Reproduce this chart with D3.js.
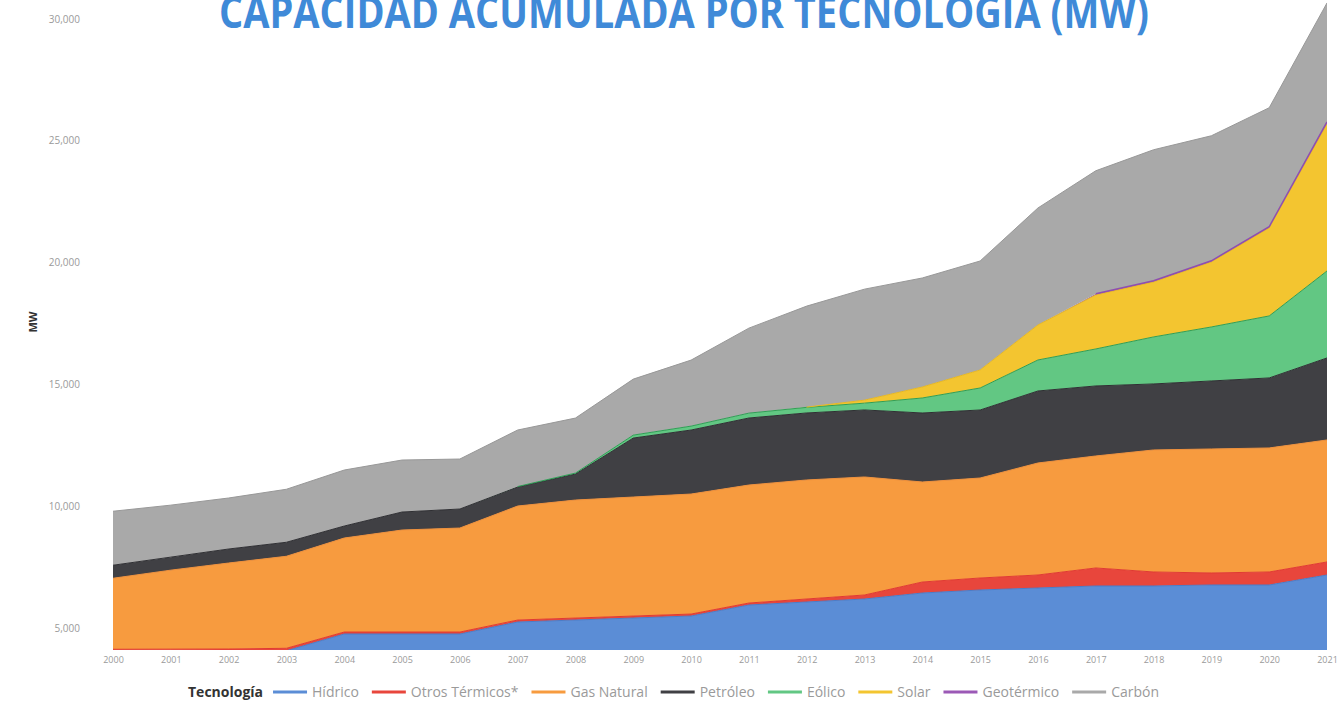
<!DOCTYPE html>
<html>
<head>
<meta charset="utf-8">
<script src="https://cdn.jsdelivr.net/npm/d3@7"></script>
<style>
  body { margin: 0; background: #fff; }
  svg { display: block; font-family: "Open Sans", "Noto Sans", sans-serif; }
</style>
</head>
<body>
<div id="chart"></div>
<script>
var width = 1342, height = 706;

// años y series (MW)
var years = [2000, 2001, 2002, 2003, 2004, 2005, 2006, 2007, 2008, 2009, 2010,
             2011, 2012, 2013, 2014, 2015, 2016, 2017, 2018, 2019, 2020, 2021];

var hidrico      = [4050, 4055, 4060, 4070, 4757, 4757, 4757, 5249, 5331, 5413, 5495,
                    5947, 6070, 6193, 6439, 6562, 6644, 6727, 6727, 6768, 6768, 7178];
var otrosTermicos = [80, 80, 80, 100, 80, 80, 80, 80, 80, 80, 80,
                    80, 123, 164, 451, 492, 534, 739, 575, 492, 534, 534];
var gasNatural   = [2914, 3242, 3529, 3776, 3858, 4186, 4268, 4679, 4843, 4884, 4925,
                    4843, 4884, 4843, 4104, 4104, 4596, 4596, 5007, 5089, 5089, 5007];
var petroleo     = [534, 534, 575, 575, 492, 739, 780, 780, 1067, 2421, 2627,
                    2750, 2750, 2750, 2832, 2791, 2955, 2873, 2709, 2791, 2873, 3365];
var eolico       = [0, 0, 0, 0, 0, 0, 0, 20, 40, 120, 160,
                    200, 230, 280, 616, 903, 1272, 1518, 1929, 2216, 2544, 3570];
var solar        = [0, 0, 0, 0, 0, 0, 0, 0, 0, 0, 0,
                    0, 10, 123, 451, 739, 1436, 2216, 2257, 2668, 3612, 6033];
var geotermico   = [0, 0, 0, 0, 0, 0, 0, 0, 0, 0, 0,
                    0, 0, 0, 0, 0, 0, 48, 48, 48, 48, 81];
var carbon       = [2216, 2134, 2093, 2175, 2298, 2134, 2052, 2319, 2257, 2298, 2709,
                    3488, 4145, 4555, 4473, 4473, 4802, 5048, 5376, 5130, 4884, 4884];

var seriesNames = ["Hídrico", "Otros Térmicos*", "Gas Natural", "Petróleo",
                   "Eólico", "Solar", "Geotérmico", "Carbón"];
var seriesValues = [hidrico, otrosTermicos, gasNatural, petroleo, eolico, solar, geotermico, carbon];
var fillColors = ["#5b8dd6", "#e8463c", "#f79b3f", "#404044", "#62c783", "#f3c530", "#9b59b6", "#a9a9a9"];
var lineColors = ["#4a7cc8", "#e03a32", "#f0903a", "#2f2f33", "#2f9e55", "#e8b820", "#8e4fb0", "#989898"];

var yTicks = [5000, 10000, 15000, 20000, 25000, 30000];

var rows = years.map(function(y, i){
	var r = { year: y };
	seriesNames.forEach(function(n, k){ r[n] = seriesValues[k][i]; });
	return r;
});

var stack = d3.stack().keys(seriesNames);
var layers = stack(rows);

var svg = d3.select("#chart").append("svg")
	.attr("width", width)
	.attr("height", height);

var plotLeft = 113, plotRight = 1327, plotBottom = 650, plotTop = 3;

var x = d3.scaleLinear()
	.domain(d3.extent(years))
	.range([plotLeft, plotRight]);

var y = d3.scaleLinear()
	.domain([4100, 30650])
	.range([plotBottom, plotTop]);

svg.append("clipPath").attr("id", "plot")
	.append("rect")
	.attr("x", plotLeft).attr("y", 0)
	.attr("width", plotRight - plotLeft).attr("height", plotBottom);

var area = d3.area()
	.x(function(d){ return x(d.data.year); })
	.y0(function(d){ return y(d[0]); })
	.y1(function(d){ return y(d[1]); });

// borde superior solo donde la serie tiene valor
var topLine = d3.line()
	.defined(function(d){ return d[1] - d[0] > 0; })
	.x(function(d){ return x(d.data.year); })
	.y(function(d){ return y(d[1]); });

var g = svg.append("g").attr("clip-path", "url(#plot)");

g.selectAll("path.area")
	.data(layers)
	.enter().append("path")
	.attr("class", "area")
	.attr("d", area)
	.style("fill", function(d, i){ return fillColors[i]; });

g.selectAll("path.edge")
	.data(layers)
	.enter().append("path")
	.attr("class", "edge")
	.attr("d", topLine)
	.style("fill", "none")
	.style("stroke", function(d, i){ return lineColors[i]; })
	.style("stroke-width", function(d, i){ return i == 6 ? 1.5 : 1; });

// titulo
svg.append("text")
	.attr("x", 684)
	.attr("y", 28)
	.attr("text-anchor", "middle")
	.attr("textLength", 930)
	.attr("lengthAdjust", "spacingAndGlyphs")
	.style("font-size", "44px")
	.style("font-weight", "bold")
	.style("fill", "#3f8ad8")
	.text("CAPACIDAD ACUMULADA POR TECNOLOGÍA (MW)");

// eje y
var yAxis = d3.axisLeft(y)
	.tickValues(yTicks)
	.tickSize(0)
	.tickPadding(0)
	.tickFormat(d3.format(",.0f"));

svg.append("g")
	.attr("transform", "translate(80,0)")
	.call(yAxis)
	.call(function(s){ s.select(".domain").remove(); })
	.selectAll("text")
	.style("font-family", "'Open Sans', sans-serif")
	.style("font-size", "10px")
	.style("fill", "#9a9a9a");

svg.append("text")
	.attr("transform", "translate(37,322) rotate(-90)")
	.attr("text-anchor", "middle")
	.style("font-size", "11px")
	.style("font-weight", "bold")
	.style("fill", "#333")
	.text("MW");

// eje x
var xAxis = d3.axisBottom(x)
	.tickValues(years)
	.tickSize(0)
	.tickPadding(7)
	.tickFormat(d3.format("d"));

svg.append("g")
	.attr("transform", "translate(0," + plotBottom + ")")
	.call(xAxis)
	.call(function(s){ s.select(".domain").remove(); })
	.selectAll("text")
	.style("font-family", "'Open Sans', sans-serif")
	.style("font-size", "9px")
	.style("fill", "#9a9a9a");

// leyenda
var legend = svg.append("g").attr("transform", "translate(188,697)");
var lt = legend.append("text")
	.attr("x", 0).attr("y", 0)
	.style("font-size", "14px")
	.style("font-weight", "bold")
	.style("fill", "#333")
	.text("Tecnología");
var cx = lt.node().getComputedTextLength() + 10;

seriesNames.forEach(function(n, i){
	legend.append("line")
		.attr("x1", cx).attr("x2", cx + 34)
		.attr("y1", -5).attr("y2", -5)
		.style("stroke", fillColors[i])
		.style("stroke-width", 3);
	var t = legend.append("text")
		.attr("x", cx + 39).attr("y", 0)
		.style("font-size", "14px")
		.style("fill", "#9a9a9a")
		.text(n);
	cx += 39 + t.node().getComputedTextLength() + 13;
});
</script>
</body>
</html>
